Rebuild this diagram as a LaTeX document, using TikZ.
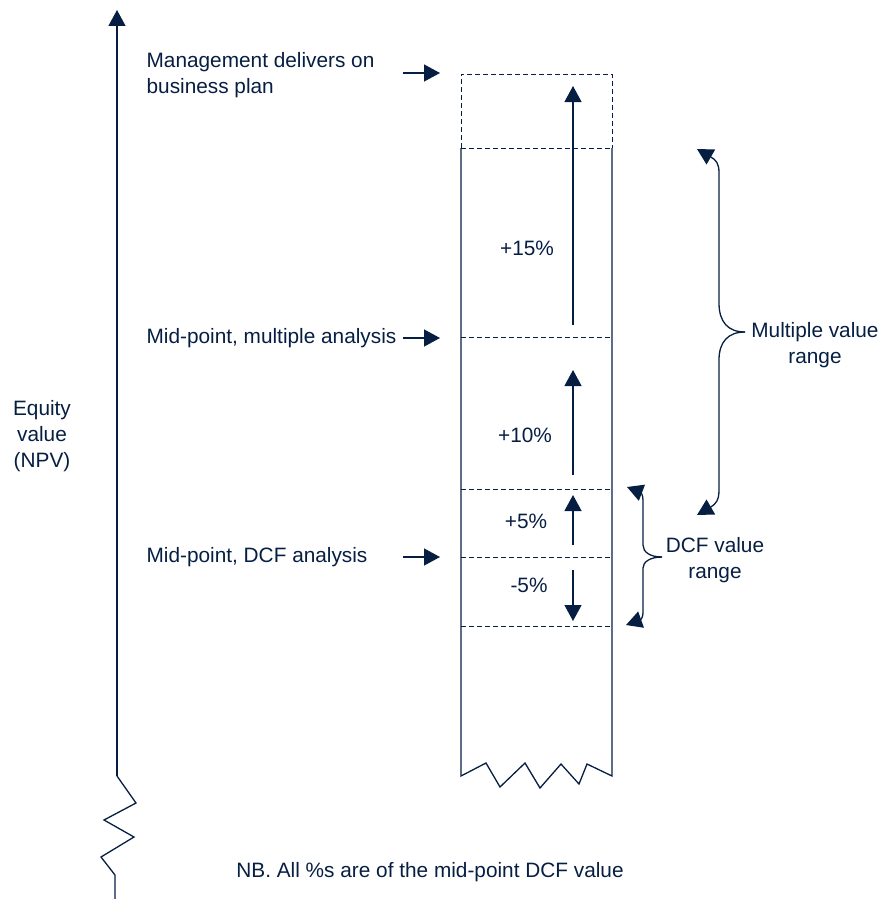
\documentclass[tikz,border=0pt]{standalone}
\usepackage{fontspec}
\setmainfont{Liberation Sans}
\usepackage{xcolor}
\usepackage{tikz}
\usetikzlibrary{arrows.meta}
\definecolor{navyblue}{RGB}{6,30,66}

\begin{document}
\begin{tikzpicture}[x=1pt, y=-1pt, >={Triangle[length=16pt, width=17pt]}, line width=1.3pt, draw=navyblue, text=navyblue, font=\fontsize{20.8}{26}\selectfont]
\tikzset{lbl/.style={anchor=west, align=left, inner sep=0pt},
  divline/.style={dash pattern=on 5pt off 3pt, line width=0.9pt},
  pct/.style={inner sep=0pt}}
\useasboundingbox (0,0) rectangle (882,899);
% value axis with break
\coordinate (axtop) at (117,10); \coordinate (axbrk) at (117,776);
\draw[->] (axbrk) -- (axtop);
\draw (axbrk) -- (136,803) -- (104,820) -- (134,837) -- (101,857) -- (115,875) -- (115,899);
\node[align=center, inner sep=0pt] (equity) at (42,436) {Equity\\value\\(NPV)};
% column
\draw[divline] (461,148) -- (461,74) -- (612,74) -- (612,148);
\draw (461,148) -- (461,776) -- (486,763) -- (500,787) -- (525,763) -- (540,788) -- (561,764) -- (579,784) -- (587,764) -- (612,776) -- (612,148);
\foreach \y in {148,337,489,557,626} \draw[divline] (461,\y) -- (612,\y);
% steps
\coordinate (s15a) at (573,325); \coordinate (s15b) at (573,86);
\coordinate (s10a) at (573,475); \coordinate (s10b) at (573,370);
\coordinate (s5a) at (573,545); \coordinate (s5b) at (573,495);
\coordinate (m5a) at (573,570); \coordinate (m5b) at (573,621);
\draw[->] (s15a) -- (s15b); \draw[->] (s10a) -- (s10b);
\draw[->] (s5a) -- (s5b); \draw[->] (m5a) -- (m5b);
\node[pct] (p15) at (527,248) {+15\%};
\node[pct] (p10) at (525,435) {+10\%};
\node[pct] (p5) at (526,521) {+5\%};
\node[pct] (m5) at (529,585) {-5\%};
% left labels
\node[lbl] (mgmt) at (146,75) {Management delivers on\\business plan};
\node[lbl] (mpmult) at (146,338) {Mid-point, multiple analysis};
\node[lbl] (mpdcf) at (146,557) {Mid-point, DCF analysis};
\coordinate (mgmtfrom) at (403,73); \coordinate (mgmtto) at (440,73);
\coordinate (multfrom) at (403,338); \coordinate (multto) at (440,338);
\coordinate (dcffrom) at (403,557); \coordinate (dcfto) at (440,557);
\draw[->] (mgmtfrom) -- (mgmtto);
\draw[->] (multfrom) -- (multto);
\draw[->] (dcffrom) -- (dcfto);
% ranges
\node[align=center, inner sep=0pt] (mvr) at (815,345) {Multiple value\\range};
\node[align=center, inner sep=0pt] (dvr) at (715,560) {DCF value\\range};
\coordinate (mvtop) at (697,149); \coordinate (mvmid) at (745,332); \coordinate (mvbot) at (697,515);
\draw[->] (mvmid) .. controls (728,332) and (719,322) .. (719,303) -- (719,173) .. controls (719,163) and (716,160) .. (mvtop);
\draw[->] (mvmid) .. controls (728,332) and (719,342) .. (719,360) -- (719,490) .. controls (719,500) and (716,504) .. (mvbot);
\coordinate (dvtop) at (627,487); \coordinate (dvmid) at (662,557); \coordinate (dvbot) at (626,625);
\draw[->] (dvmid) .. controls (650,557) and (643,552) .. (643,545) -- (643,500) .. controls (643,494) and (640,492) .. (dvtop);
\draw[->] (dvmid) .. controls (650,557) and (643,562) .. (643,568) -- (643,613) .. controls (643,618) and (640,620) .. (dvbot);
\node (nb) at (430,872) {NB. All \%s are of the mid-point DCF value};
\end{tikzpicture}
\end{document}
